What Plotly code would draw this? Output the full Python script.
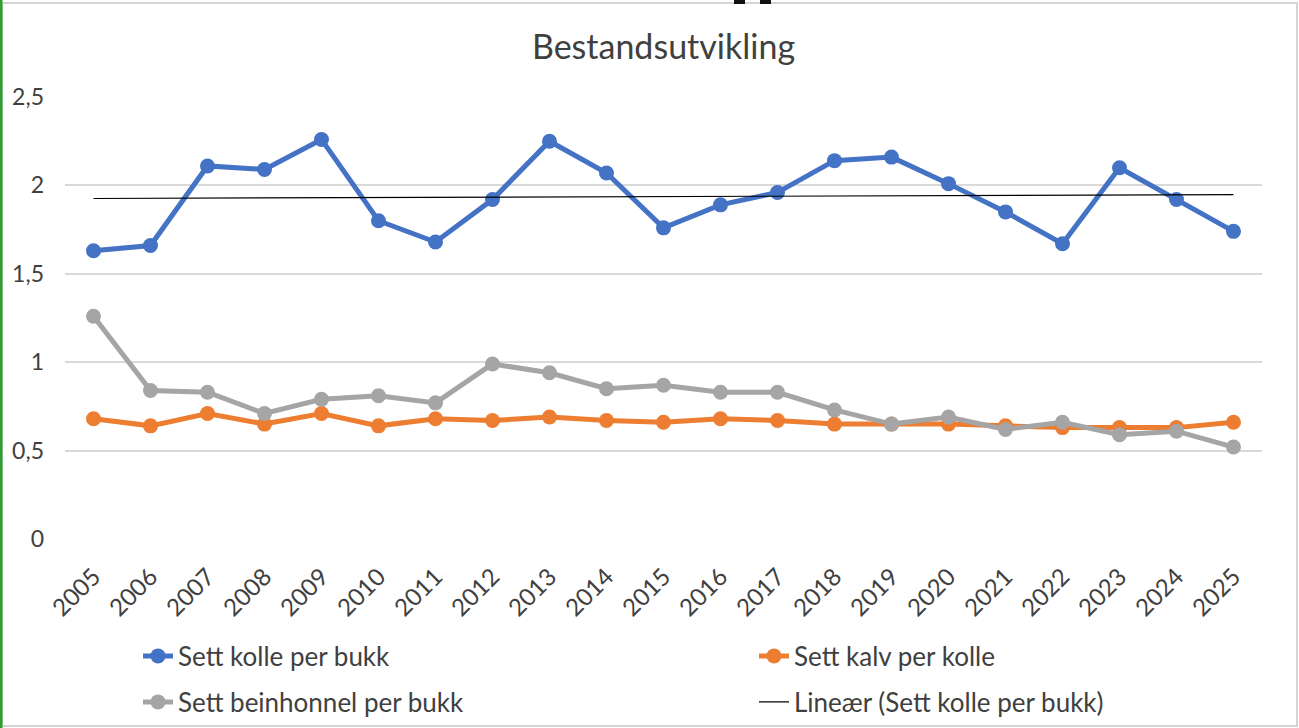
import numpy as np
import plotly.graph_objects as go

years = [str(y) for y in range(2005, 2026)]
kolle_per_bukk = [1.63, 1.66, 2.11, 2.09, 2.26, 1.80, 1.68, 1.92, 2.25, 2.07, 1.76,
                  1.89, 1.96, 2.14, 2.16, 2.01, 1.85, 1.67, 2.10, 1.92, 1.74]
kalv_per_kolle = [0.68, 0.64, 0.71, 0.65, 0.71, 0.64, 0.68, 0.67, 0.69, 0.67, 0.66,
                  0.68, 0.67, 0.65, 0.65, 0.65, 0.64, 0.63, 0.63, 0.63, 0.66]
beinhonnel_per_bukk = [1.26, 0.84, 0.83, 0.71, 0.79, 0.81, 0.77, 0.99, 0.94, 0.85, 0.87,
                       0.83, 0.83, 0.73, 0.65, 0.69, 0.62, 0.66, 0.59, 0.61, 0.52]
y_ticks = [0, 0.5, 1, 1.5, 2, 2.5]

# linear trendline of "Sett kolle per bukk"
idx = np.arange(len(years))
slope, intercept = np.polyfit(idx, kolle_per_bukk, 1)
trend = list(slope * idx + intercept)

FONT = "Lato"
BLUE, ORANGE, GRAY = "#4472C4", "#ED7D31", "#A5A5A5"

# plot-area pixel geometry (for paper conversions of decorative shapes / legends)
L, R, T, B = 65, 1262, 97, 539
W, H = R - L, B - T
def px(x):
    return (x - L) / W
def py(y):
    return (B - y) / H

fig = go.Figure()
fig.add_trace(go.Scatter(x=years, y=kolle_per_bukk, name="Sett kolle per bukk",
                         mode="lines+markers", line=dict(color=BLUE, width=5),
                         marker=dict(size=15, color=BLUE), legend="legend"))
fig.add_trace(go.Scatter(x=years, y=kalv_per_kolle, name="Sett kalv per kolle",
                         mode="lines+markers", line=dict(color=ORANGE, width=5),
                         marker=dict(size=15, color=ORANGE), legend="legend2"))
fig.add_trace(go.Scatter(x=years, y=beinhonnel_per_bukk, name="Sett beinhonnel per bukk",
                         mode="lines+markers", line=dict(color=GRAY, width=5),
                         marker=dict(size=15, color=GRAY), legend="legend3"))
fig.add_trace(go.Scatter(x=years, y=trend, name="Lineær (Sett kolle per bukk)",
                         mode="lines", line=dict(color="black", width=1.2),
                         legend="legend4"))

legend_common = dict(orientation="h", font=dict(family=FONT, size=26, color="#404040"),
                     bgcolor="rgba(0,0,0,0)", xanchor="left", yanchor="middle",
                     itemclick=False, itemdoubleclick=False)

shapes = [
    # outer frame
    dict(type="rect", xref="paper", yref="paper", x0=px(2), x1=px(1297), y0=py(726), y1=py(3),
         line=dict(color="#D4D4D4", width=2), fillcolor="rgba(0,0,0,0)", layer="below"),
    # green left edge
    dict(type="rect", xref="paper", yref="paper", x0=px(0), x1=px(2.5), y0=py(728), y1=py(0),
         line=dict(width=0), fillcolor="#2E9E2E"),
    # black fragments at top
    dict(type="rect", xref="paper", yref="paper", x0=px(734), x1=px(745), y0=py(4), y1=py(0),
         line=dict(width=0), fillcolor="#111111"),
    dict(type="rect", xref="paper", yref="paper", x0=px(760), x1=px(771), y0=py(4), y1=py(0),
         line=dict(width=0), fillcolor="#111111"),
]

fig.update_layout(
    width=1299, height=728,
    margin=dict(l=L, r=1299 - R, t=T, b=728 - B, autoexpand=False),
    paper_bgcolor="white", plot_bgcolor="white",
    separators=", ",
    title=dict(text="Bestandsutvikling", x=0.5, xanchor="center", xref="paper",
               y=1 - 47 / 728, yanchor="middle",
               font=dict(family=FONT, size=34, color="#404040")),
    xaxis=dict(type="category", tickangle=-45, showgrid=False, zeroline=False,
               showline=False, ticks="", ticklabelstandoff=18,
               tickfont=dict(family=FONT, size=24, color="#404040"),
               range=[-0.5, len(years) - 0.5]),
    yaxis=dict(range=[0, 2.5], tickvals=y_ticks, showgrid=True, gridcolor="#D9D9D9",
               gridwidth=1.5, zeroline=False, showline=False, ticks="",
               ticklabelstandoff=20,
               tickfont=dict(family=FONT, size=23, color="#404040")),
    legend=dict(x=px(138), y=py(656), **legend_common),
    legend2=dict(x=px(754), y=py(656), **legend_common),
    legend3=dict(x=px(138), y=py(702), **legend_common),
    legend4=dict(x=px(754), y=py(702), **legend_common),
    shapes=shapes,
    showlegend=True,
)

fig.write_html("out.html", config={"displayModeBar": False},
               post_script="document.body.style.margin='0';document.body.style.overflow='hidden';")
